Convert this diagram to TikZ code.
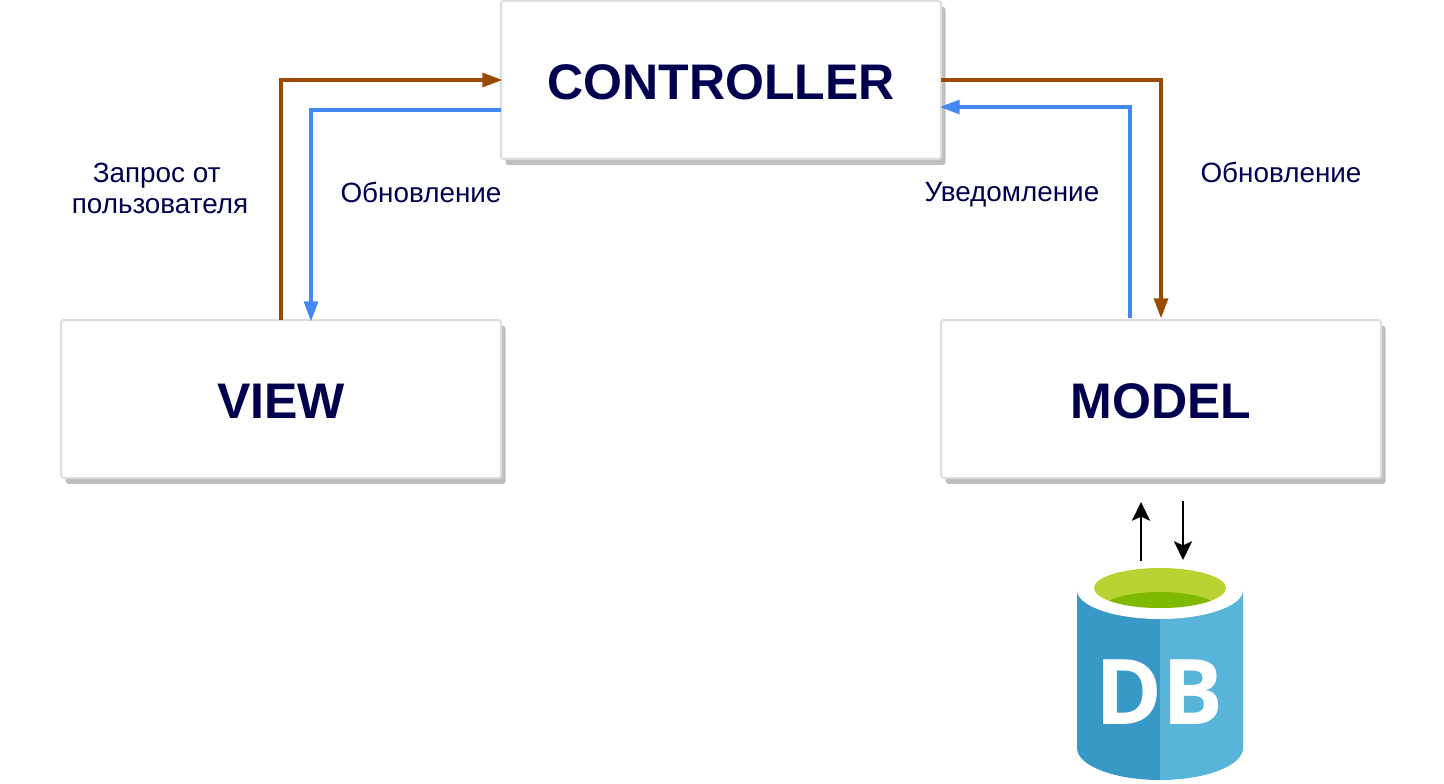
\documentclass[tikz,border=0pt]{standalone}
\usepackage{fontspec}
\setmainfont{Liberation Sans}
\newfontfamily\dbfont{Open Sans}
\usetikzlibrary{arrows.meta,positioning,calc,shadows}

\definecolor{textnavy}{HTML}{00004F}
\definecolor{boxline}{HTML}{DDDDDD}
\definecolor{boxshadow}{HTML}{BFBFBF}
\definecolor{reqbrown}{HTML}{994C00}
\definecolor{updblue}{HTML}{4488F5}
\definecolor{dbdark}{HTML}{3999C6}
\definecolor{dblight}{HTML}{59B4D9}
\definecolor{dbgreen}{HTML}{B8D432}
\definecolor{dbdeep}{HTML}{7FBA00}

\tikzset{
    mvcbox/.style={draw=boxline, fill=white, line width=1.5pt, rounded corners=2pt,
        minimum width=330pt, minimum height=118.5pt, outer sep=0pt,
        general shadow={shadow xshift=3.4pt, shadow yshift=-4.4pt, fill=boxshadow},
        text=textnavy, text height=29pt, text depth=0pt, font=\fontsize{37.5}{40}\selectfont\bfseries},
    lbl/.style={text=textnavy, align=center, inner sep=0pt, font=\fontsize{20.9}{23.25}\selectfont},
    reqline/.style={draw=reqbrown, line width=2.4pt, -{Triangle[length=15pt,width=10.5pt]}, shorten >=-1pt},
    updline/.style={draw=updblue, line width=2.4pt, -{Triangle[length=15pt,width=10.5pt]}, shorten >=-1pt},
    dbline/.style={black, line width=1.8pt, -{Stealth[length=14pt,width=13.5pt,inset=3pt]}}
}

\begin{document}
\begin{tikzpicture}[x=0.75pt, y=-0.75pt]
    \useasboundingbox (0, 0) rectangle (1444, 784);

    % Boxes
    \node[mvcbox] (controller) at (721, 80) {CONTROLLER};
    \node[mvcbox] (view) at (281, 399) {VIEW};
    \node[mvcbox] (model) at (1161, 399) {MODEL};

    % View side
    \draw[reqline] (view.north) |- (controller.west);
    \draw[updline] ($(controller.west)+(0, 30)$) -| ($(view.north)+(30, 0)$);
    \node[lbl] (request) at (160, 188.5) {Запрос от\kern5pt\\пользователя};
    \node[lbl] (updview) at (421, 192.5) {Обновление};

    % Model side
    \draw[updline] ($(model.north)+(-31, -2)$) |- ($(controller.east)+(0, 27)$);
    \draw[reqline] (controller.east) -| ($(model.north)+(0, -3)$);
    \node[lbl] (notify) at (1012, 195) {Уведомление};
    \node[lbl] (updmodel) at (1281, 172.5) {Обновление};

    % Database
    \fill[dbdark] (1077, 590) -- (1077, 748) arc[start angle=180, end angle=90, x radius=83, y radius=32] -- (1160, 590) -- cycle;
    \fill[dblight] (1160, 590) -- (1160, 780) arc[start angle=90, end angle=0, x radius=83, y radius=32] -- (1243, 590) -- cycle;
    \fill[white] (1160, 590) ellipse[x radius=83, y radius=29];
    \fill[dbgreen] (1160, 588) ellipse[x radius=66, y radius=20];
    \begin{scope}
        \clip (1160, 588) ellipse[x radius=66, y radius=20];
        \fill[dbdeep] (1160, 612) ellipse[x radius=62, y radius=20];
    \end{scope}
    \node[text=white, inner sep=0pt, font=\fontsize{68}{68}\selectfont\dbfont\bfseries] (db) at (1159, 692) {DB};

    % Arrows to the database
    \coordinate (upfrom) at (1141, 561);
    \coordinate (upto) at (1141, 502);
    \coordinate (downfrom) at (1183, 501);
    \coordinate (downto) at (1183, 560);
    \draw[dbline] (upfrom) -- (upto);
    \draw[dbline] (downfrom) -- (downto);
\end{tikzpicture}
\end{document}
